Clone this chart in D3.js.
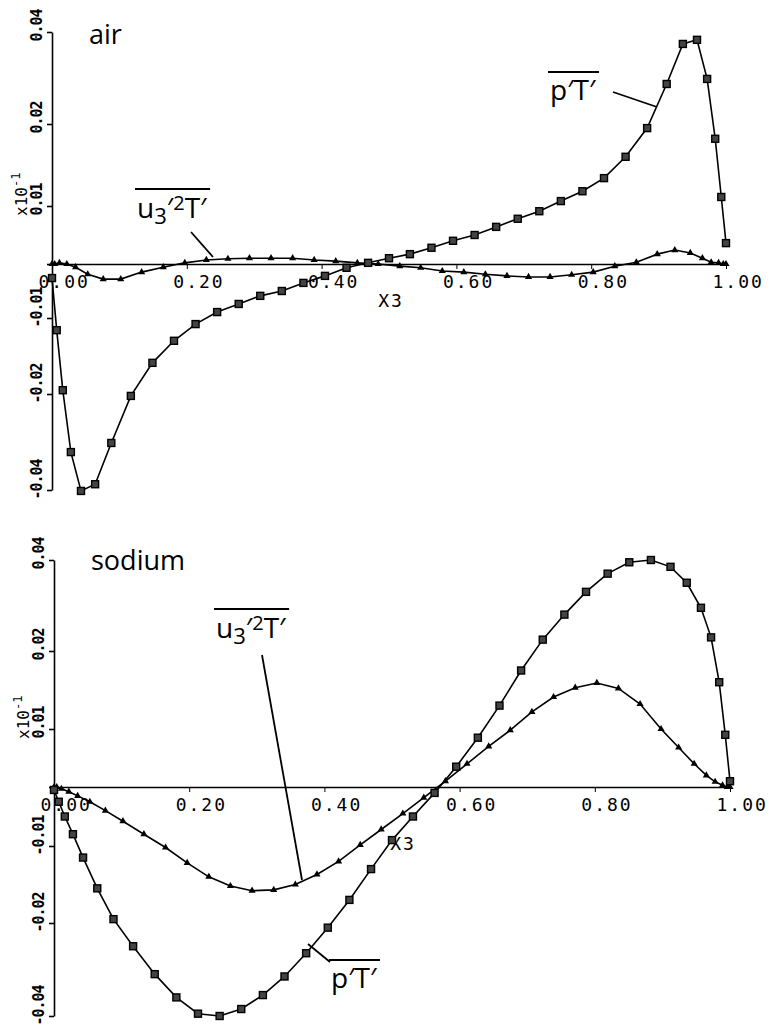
<!DOCTYPE html>
<html>
<head>
<meta charset="utf-8">
<script src="https://cdn.jsdelivr.net/npm/d3@7"></script>
<style>
  body { margin: 0; background: #fff; }
  .tick line, .domain { stroke: #000; stroke-width: 1.6px; }
  .lbl { font-family: "Open Sans", "Noto Sans", sans-serif; fill: #000; }
  .num { font-family: "DejaVu Sans Mono", monospace; fill: #000; }
</style>
</head>
<body>
<div id="chart"></div>
<script>
// cell centres for p'T', cell faces for u3'2T' (staggered grid)
var xCenters = [0, 0.007, 0.016, 0.028, 0.043, 0.064, 0.088, 0.117, 0.149, 0.181, 0.213, 0.245, 0.277,
  0.309, 0.341, 0.373, 0.405, 0.437, 0.469, 0.5, 0.531, 0.563, 0.595, 0.627, 0.659, 0.691, 0.723,
  0.755, 0.787, 0.819, 0.851, 0.883, 0.912, 0.936, 0.957, 0.972, 0.984, 0.993, 1.0];
var xFaces = [0, 0.004, 0.011, 0.022, 0.035, 0.053, 0.076, 0.102, 0.133, 0.165, 0.197, 0.229, 0.261,
  0.293, 0.325, 0.357, 0.389, 0.421, 0.453, 0.484, 0.516, 0.547, 0.579, 0.611, 0.643, 0.675, 0.707,
  0.739, 0.771, 0.803, 0.835, 0.867, 0.898, 0.924, 0.947, 0.965, 0.978, 0.989, 0.996, 1.0];

var airPT = [-0.0026, -0.0116, -0.0195, -0.0321, -0.0402, -0.0388, -0.0302, -0.0204, -0.0159, -0.0130,
  -0.0108, -0.0089, -0.0074, -0.0059, -0.0050, -0.0035, -0.0022, -0.0007, 0.0002, 0.0010, 0.0017,
  0.0028, 0.0040, 0.0050, 0.0064, 0.0078, 0.0091, 0.0106, 0.0118, 0.0134, 0.0160, 0.0195, 0.0287,
  0.0374, 0.0383, 0.0298, 0.0182, 0.0111, 0.0036];
var airU3T = [0, 0, 0.0002, 0, -0.0006, -0.0019, -0.0028, -0.0028, -0.0015, -0.0006, 0.0002, 0.0007,
  0.0009, 0.0010, 0.0010, 0.0010, 0.0007, 0.0005, 0.0002, 0, -0.0004, -0.0007, -0.0013, -0.0015,
  -0.0019, -0.0022, -0.0024, -0.0024, -0.0020, -0.0015, -0.0004, 0.0003, 0.0017, 0.0024, 0.0019,
  0.0010, 0.0003, 0.0002, 0, 0];

var sodiumPT = [-0.0005, -0.0025, -0.0050, -0.0080, -0.0115, -0.0155, -0.0195, -0.0250, -0.0310,
  -0.0360, -0.0395, -0.0400, -0.0385, -0.0355, -0.0315, -0.0265, -0.0210, -0.0170, -0.0130, -0.0090,
  -0.0050, -0.0010, 0.0035, 0.0085, 0.0130, 0.0175, 0.0225, 0.0280, 0.0330, 0.0370, 0.0395, 0.0400,
  0.0385, 0.0350, 0.0295, 0.0230, 0.0160, 0.0090, 0.0010];
var sodiumU3T = [0, 0, -0.0003, -0.0008, -0.0015, -0.0025, -0.0040, -0.0058, -0.0080, -0.0102, -0.0122,
  -0.0140, -0.0152, -0.0158, -0.0157, -0.0150, -0.0137, -0.0120, -0.0098, -0.0072, -0.0045, -0.0018,
  0.0010, 0.0040, 0.0070, 0.0098, 0.0122, 0.0141, 0.0153, 0.0159, 0.0152, 0.0132, 0.0100, 0.0068,
  0.0040, 0.0020, 0.0009, 0.0003, 0, 0];

var yTicks = [-0.04, -0.02, -0.01, 0, 0.01, 0.02, 0.04];
var yTickLabels = ["-0.04", "-0.02", "-0.01", "", "0.01", "0.02", "0.04"];
var xTicks = [0, 0.2, 0.4, 0.6, 0.8, 1.0];
var xTickLabels = ["0.00", "0.20", "0.40", "0.60", "0.80", "1.00"];

var svg = d3.select("#chart").append("svg")
    .attr("width", 771)
    .attr("height", 1030);

// the printed y axis is not evenly spaced, so each tick gets its own pixel row
var panels = [
  { name: "air", pt: airPT, u3: airU3T, xr: [52, 726], yr: [490, 394, 318, 264, 206, 124, 32],
    title: [89, 44], x3: [391, 307],
    ptLabel: [550, 100], ptLead: [[613, 92], [657, 107]],
    u3Label: [137, 218], u3Lead: [[191, 232], [213, 257]] },
  { name: "sodium", pt: sodiumPT, u3: sodiumU3T, xr: [54, 730], yr: [1016, 923, 846, 787, 729, 651, 560],
    title: [91, 570], x3: [403, 850],
    ptLabel: [331, 988], ptLead: [[330, 962], [308, 944]],
    u3Label: [216, 638], u3Lead: [[262, 655], [302, 880]] }
];

panels.forEach(function (p) {
  var x = d3.scaleLinear().domain([0, 1]).range(p.xr);
  var y = d3.scaleLinear().domain(yTicks).range(p.yr);
  var g = svg.append("g");

  // y axis
  var yAxis = g.append("g")
      .attr("transform", "translate(" + p.xr[0] + ",0)")
      .call(d3.axisLeft(y).tickValues(yTicks).tickSize(5).tickSizeOuter(0)
        .tickFormat(function (d, i) { return yTickLabels[i]; }));
  yAxis.selectAll("text")
      .attr("class", "num")
      .attr("x", null).attr("dy", null)
      .style("font-size", "15px")
      .style("font-weight", "bold")
      .style("letter-spacing", "-1px")
      .attr("text-anchor", "start")
      .attr("transform", "translate(-10,9) rotate(-90)");

  // x10^-1 multiplier
  var mult = g.append("text")
      .attr("class", "num")
      .style("font-size", "16px")
      .attr("transform", "translate(" + (p.xr[0] - 25) + "," + (y(0.01) + 10) + ") rotate(-90)");
  mult.append("tspan").text("x10");
  mult.append("tspan").attr("dy", -7).style("font-size", "12px").text("-1");

  // x axis along the zero line
  var xAxis = g.append("g")
      .attr("transform", "translate(0," + y(0) + ")")
      .call(d3.axisBottom(x).tickValues(xTicks).tickSize(5).tickSizeOuter(0)
        .tickFormat(function (d, i) { return xTickLabels[i]; }));
  xAxis.selectAll(".tick line").style("stroke-width", "1px");
  xAxis.selectAll("text")
      .attr("class", "num")
      .attr("y", 24).attr("dy", null)
      .attr("text-anchor", "start")
      .attr("dx", -14)
      .style("font-size", "18px")
      .style("letter-spacing", "2px");

  g.append("text").attr("class", "num")
      .attr("x", p.x3[0]).attr("y", p.x3[1])
      .attr("text-anchor", "middle")
      .style("font-size", "18px")
      .style("letter-spacing", "2px")
      .text("X3");

  // curves
  var linePT = d3.line()
      .x(function (d, i) { return x(xCenters[i]); })
      .y(function (d) { return y(d); });
  var lineU3 = d3.line()
      .x(function (d, i) { return x(xFaces[i]); })
      .y(function (d) { return y(d); });

  g.append("path").datum(p.u3)
      .attr("d", lineU3)
      .attr("fill", "none").attr("stroke", "#000").attr("stroke-width", 1.6);
  g.append("path").datum(p.pt)
      .attr("d", linePT)
      .attr("fill", "none").attr("stroke", "#000").attr("stroke-width", 1.6);

  g.selectAll(".tri").data(p.u3).enter().append("path")
      .attr("class", "tri")
      .attr("d", d3.symbol().type(d3.symbolTriangle).size(22))
      .attr("transform", function (d, i) { return "translate(" + x(xFaces[i]) + "," + y(d) + ")"; })
      .attr("fill", "#000");

  g.selectAll(".sq").data(p.pt).enter().append("rect")
      .attr("class", "sq")
      .attr("x", function (d, i) { return x(xCenters[i]) - 3.5; })
      .attr("y", function (d) { return y(d) - 3.5; })
      .attr("width", 7).attr("height", 7)
      .attr("fill", "#444").attr("stroke", "#000").attr("stroke-width", 1.4);

  // panel title
  g.append("text").attr("class", "lbl")
      .attr("x", p.title[0]).attr("y", p.title[1])
      .style("font-size", "27px")
      .text(p.name);

  // p'T' label with overbar and leader
  var pt = g.append("text").attr("class", "lbl")
      .attr("x", p.ptLabel[0]).attr("y", p.ptLabel[1])
      .style("font-size", "28px")
      .text("p\u2032T\u2032");
  var pb = pt.node().getBBox();
  g.append("line")
      .attr("x1", pb.x - 2).attr("x2", pb.x + pb.width + 2)
      .attr("y1", pb.y + 2).attr("y2", pb.y + 2)
      .attr("stroke", "#000").attr("stroke-width", 2);
  g.append("line")
      .attr("x1", p.ptLead[0][0]).attr("y1", p.ptLead[0][1])
      .attr("x2", p.ptLead[1][0]).attr("y2", p.ptLead[1][1])
      .attr("stroke", "#000").attr("stroke-width", 1.8);

  // u3'2T' label
  var ut = g.append("text").attr("class", "lbl")
      .attr("x", p.u3Label[0]).attr("y", p.u3Label[1])
      .style("font-size", "28px");
  ut.append("tspan").text("u");
  ut.append("tspan").attr("dy", 6).style("font-size", "22px").text("3");
  ut.append("tspan").attr("dy", -6).text("\u2032");
  ut.append("tspan").attr("dy", -8).style("font-size", "20px").text("2");
  ut.append("tspan").attr("dy", 8).text("T\u2032");
  var ub = ut.node().getBBox();
  g.append("line")
      .attr("x1", ub.x - 2).attr("x2", ub.x + ub.width + 2)
      .attr("y1", ub.y + 1).attr("y2", ub.y + 1)
      .attr("stroke", "#000").attr("stroke-width", 2);
  g.append("line")
      .attr("x1", p.u3Lead[0][0]).attr("y1", p.u3Lead[0][1])
      .attr("x2", p.u3Lead[1][0]).attr("y2", p.u3Lead[1][1])
      .attr("stroke", "#000").attr("stroke-width", 1.8);
});
</script>
</body>
</html>
